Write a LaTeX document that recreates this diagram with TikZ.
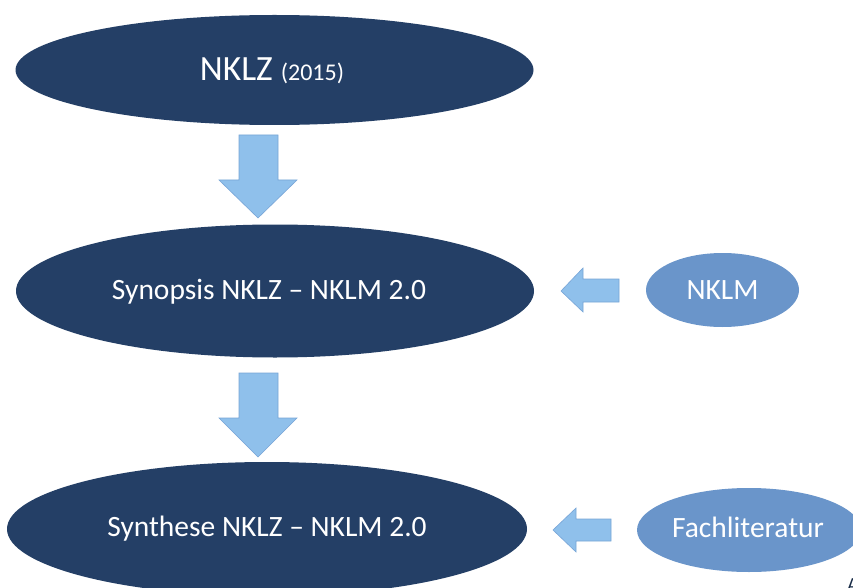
\documentclass[tikz,border=0pt]{standalone}
\usepackage{fontspec}
\setmainfont{Carlito}
\usetikzlibrary{shapes.geometric}
\definecolor{navy}{RGB}{36,63,102}
\definecolor{midblue}{RGB}{106,149,202}
\definecolor{arrowfill}{RGB}{143,192,235}
\definecolor{arrowline}{RGB}{120,165,215}
\tikzset{
  bigell/.style={ellipse, fill=navy, draw=none, inner sep=0pt, text=white, font=\fontsize{29.5}{33}\selectfont},
  smallell/.style={ellipse, fill=midblue, draw=none, inner sep=0pt, text=white, font=\fontsize{29.5}{33}\selectfont},
  blockarrow/.style={fill=arrowfill, draw=arrowline, line width=0.6pt, line join=miter}
}
\begin{document}
\begin{tikzpicture}[x=1pt,y=-1pt]
\useasboundingbox (0,0) rectangle (853,588);
\clip (0,0) rectangle (853,588);
\fill[white] (0,0) rectangle (853,588);
% main ellipses
\node[bigell, minimum width=518pt, minimum height=110pt] (nklz) at (274.5,70) {};
\node[text=white, inner sep=0pt, font=\fontsize{35.5}{39}\selectfont] (nklzt) at (272,71)
  {NKLZ \fontsize{24}{28}\selectfont(2015)};
\node[bigell, minimum width=518pt, minimum height=133pt] (syn) at (275,291) {};
\node[text=white, inner sep=0pt, font=\fontsize{29.5}{33}\selectfont] (synt) at (269,292)
  {Synopsis NKLZ – NKLM 2.0};
\node[bigell, minimum width=520pt, minimum height=134pt] (synth) at (267,529)
  {Synthese NKLZ – NKLM 2.0};
% side ellipses
\node[smallell, minimum width=153pt, minimum height=74pt] (nklm) at (722.5,290) {NKLM};
\node[smallell, minimum width=224pt, minimum height=84pt] (fach) at (749,530) {};
\node[text=white, inner sep=0pt, font=\fontsize{29.5}{33}\selectfont] (facht) at (748,527) {Fachliteratur};
% down arrows
\draw[blockarrow] (239,135) -- (278,135) -- (278,180) -- (297,180) -- (258,218)
  -- (219,180) -- (239,180) -- cycle;
\draw[blockarrow] (239,373) -- (278,373) -- (278,418) -- (297,418) -- (258,457)
  -- (219,418) -- (239,418) -- cycle;
% left arrows
\draw[blockarrow] (619,279) -- (619,302) -- (583,302) -- (583,312) -- (561,291)
  -- (583,268) -- (583,279) -- cycle;
\draw[blockarrow] (611,519) -- (611,541) -- (576,541) -- (576,552) -- (553,530)
  -- (576,508) -- (576,519) -- cycle;
% cut-off text fragment at the lower right corner
\node[anchor=south west, inner sep=0pt, text=navy!70!black, font=\fontsize{20}{24}\selectfont] (frag) at (847,592) {A};
\end{tikzpicture}
\end{document}
